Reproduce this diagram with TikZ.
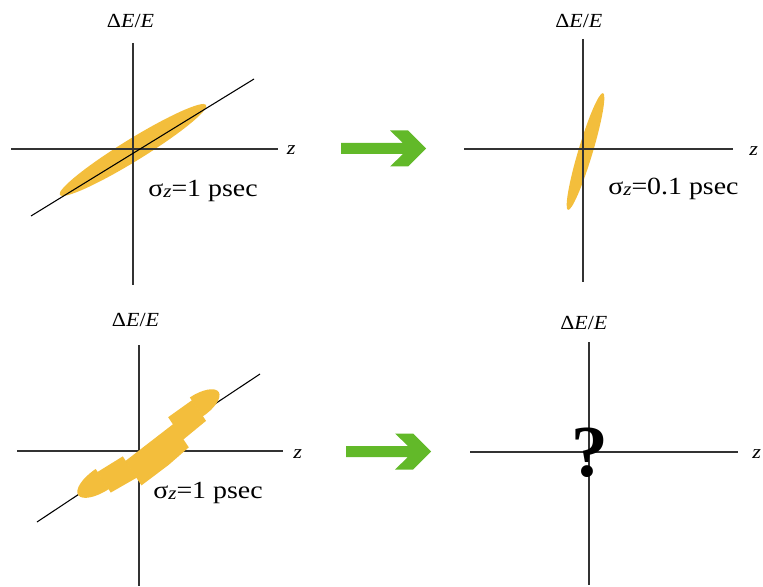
\documentclass[tikz,border=0pt]{standalone}
\usepackage{fontspec}
\setmainfont{Liberation Serif}
\definecolor{beam}{RGB}{243,190,60}
\definecolor{arrowgreen}{RGB}{98,185,41}
\begin{document}
\begin{tikzpicture}[x=0.75pt,y=0.75pt,
  axis/.style={draw=black!80, line width=0.8pt},
  chirp/.style={draw=black, line width=0.8pt},
  beamfill/.style={fill=beam, draw=none},
  axlabel/.style={font=\fontsize{15}{17}\selectfont, inner sep=0pt, anchor=base west},
  zlabel/.style={font=\fontsize{14.5}{16}\selectfont, inner sep=0pt, anchor=base west},
  siglabel/.style={font=\fontsize{18.5}{21}\selectfont, inner sep=0pt, anchor=base west},
  pics/greenarrow/.style={code={
    \fill[arrowgreen] (0,5.5) -- (62,5.5) -- (49,18) -- (67,18) -- (85,0)
      -- (67,-18) -- (49,-18) -- (62,-5.5) -- (0,-5.5) -- cycle;}}
]
\useasboundingbox (0,0) rectangle (763,586);

% ---------- top-left panel ----------
\fill[beamfill, rotate around={31.6:(133,436)}] (133,436) ellipse [x radius=86, y radius=11];
\coordinate (tlT) at (133,543); \coordinate (tlB) at (133,301);
\coordinate (tlL) at (11,437);  \coordinate (tlR) at (278,437);
\coordinate (tlD1) at (31,370); \coordinate (tlD2) at (254,507);
\draw[axis] (tlT) -- (tlB);
\draw[axis] (tlL) -- (tlR);
\draw[chirp] (tlD1) -- (tlD2);
\node[axlabel] (tlE) at (106.7,558.3) {\scalebox{1.1}[1]{Δ\textit{E}/\textit{E}}};
\node[zlabel] (tlz) at (286.7,431) {\scalebox{1.15}[1]{\textit{z}}};
\node[siglabel] (tls) at (148,389.5) {\scalebox{1.13}[1]{σ\raisebox{-0.1ex}{\fontsize{14}{15}\selectfont\textit{z}}=1 psec}};

% ---------- top-right panel ----------
\fill[beamfill, rotate around={73.3:(585.5,434.5)}] (585.5,434.5) ellipse [x radius=61, y radius=7.2];
\coordinate (trT) at (583,547); \coordinate (trB) at (583,304);
\coordinate (trL) at (464,437); \coordinate (trR) at (733,437);
\draw[axis] (trT) -- (trB);
\draw[axis] (trL) -- (trR);
\node[axlabel] (trE) at (555,558.3) {\scalebox{1.1}[1]{Δ\textit{E}/\textit{E}}};
\node[zlabel] (trz) at (749,430) {\scalebox{1.15}[1]{\textit{z}}};
\node[siglabel] (trs) at (608,391.7) {\scalebox{1.13}[1]{σ\raisebox{-0.1ex}{\fontsize{14}{15}\selectfont\textit{z}}=0.1 psec}};

% ---------- arrows ----------
\pic at (341,437.5) {greenarrow};
\pic at (346,134.5) {greenarrow};

% ---------- bottom-left panel ----------
\coordinate (blT) at (139,241); \coordinate (blB) at (139,0);
\coordinate (blL) at (17,135);  \coordinate (blR) at (283,135);
\coordinate (blD1) at (37,64);  \coordinate (blD2) at (260,212);
\draw[axis] (blT) -- (blB);
\draw[axis] (blL) -- (blR);
\draw[chirp] (blD1) -- (blD2);
\begin{scope}[shift={(139,135)}, rotate=33.6]
  \fill[beamfill] (-46,9) arc[start angle=90, end angle=270, x radius=29, y radius=12] -- cycle;
  \fill[beamfill] (-46.5,5.5) -- (-16.5,4.5) -- (-16.5,-21) -- (-46.5,-19) -- cycle;
  \fill[beamfill] (-17,-0.8) -- (43.5,3.5) -- (43.5,-24.5) -- (17,-28) -- (-17,-30) -- cycle;
  \fill[beamfill] (43,12) -- (72.5,13) -- (72.5,-12) -- (43,-15) -- cycle;
  \fill[beamfill] (72,-6.5) arc[start angle=-90, end angle=90, x radius=27, y radius=11.5] -- cycle;
\end{scope}
\node[axlabel] (blE) at (111.7,259.3) {\scalebox{1.1}[1]{Δ\textit{E}/\textit{E}}};
\node[zlabel] (blz) at (293,127.7) {\scalebox{1.15}[1]{\textit{z}}};
\node[siglabel] (bls) at (153,87.7) {\scalebox{1.13}[1]{σ\raisebox{-0.1ex}{\fontsize{14}{15}\selectfont\textit{z}}=1 psec}};

% ---------- bottom-right panel ----------
\coordinate (brT) at (589,244); \coordinate (brB) at (589,1);
\coordinate (brL) at (470,134); \coordinate (brR) at (738,134);
\draw[axis] (brT) -- (brB);
\draw[axis] (brL) -- (brR);
\node[axlabel] (brE) at (560,256.7) {\scalebox{1.1}[1]{Δ\textit{E}/\textit{E}}};
\node[zlabel] (brz) at (752,128) {\scalebox{1.15}[1]{\textit{z}}};
\node[inner sep=0pt, font=\fontsize{55}{60}\selectfont\bfseries] (q) at (589.5,133) {?};
\end{tikzpicture}
\end{document}
